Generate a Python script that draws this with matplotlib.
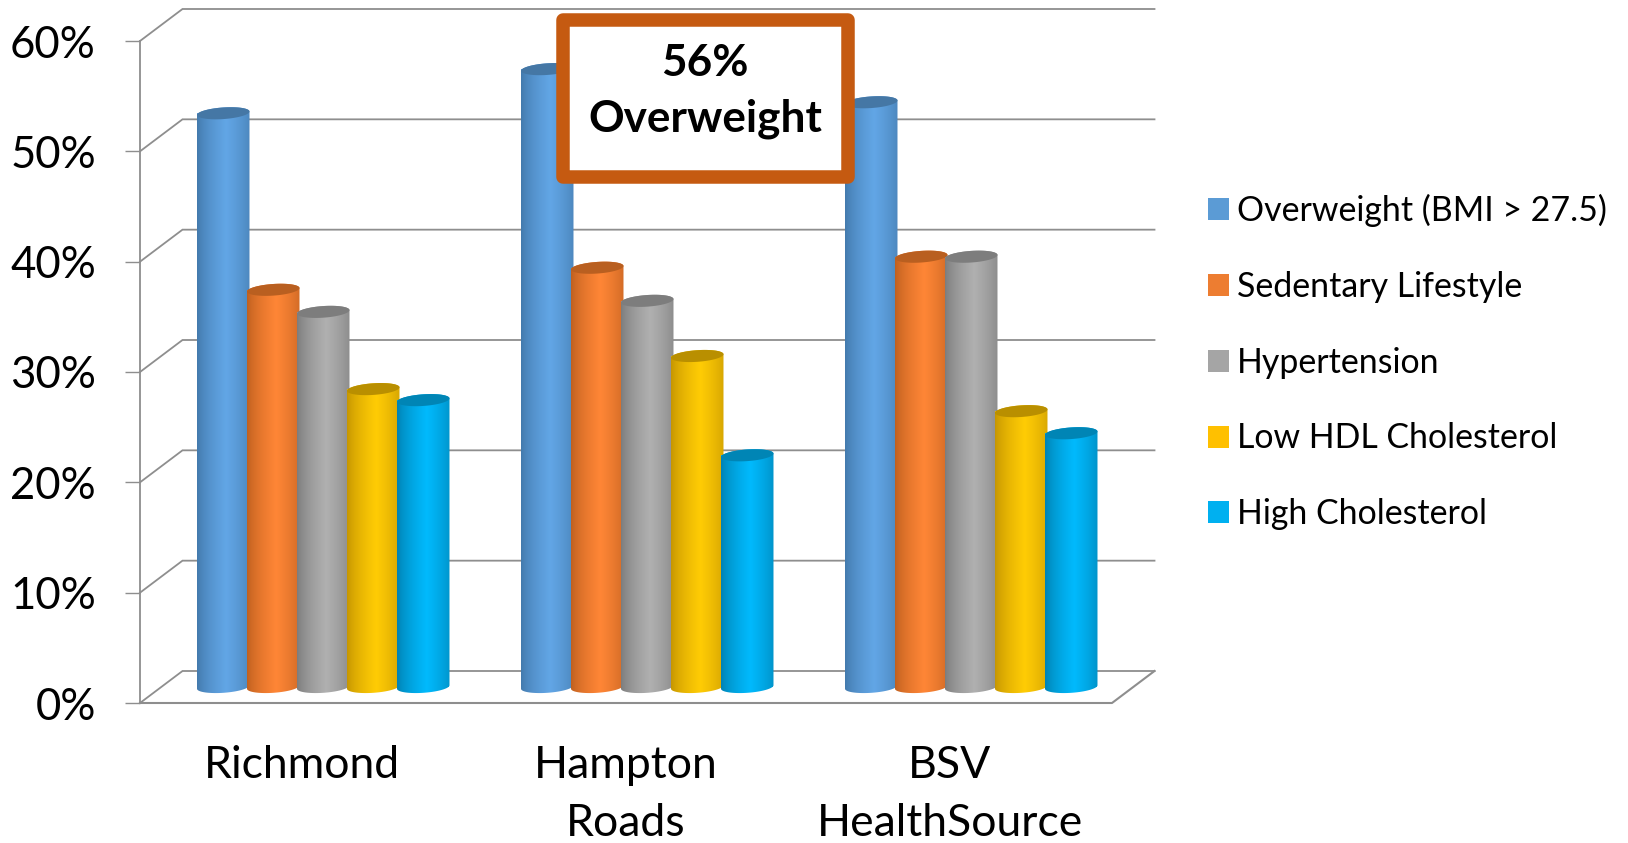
import numpy as np
import matplotlib
matplotlib.use("Agg")
import matplotlib.pyplot as plt
from matplotlib.colors import to_rgb
from matplotlib.patches import Polygon, Rectangle, Patch

categories = ["Richmond", "Hampton\nRoads", "BSV\nHealthSource"]
series_names = ["Overweight (BMI > 27.5)", "Sedentary Lifestyle", "Hypertension",
                "Low HDL Cholesterol", "High Cholesterol"]
overweight = [52, 56, 53]
sedentary = [36, 38, 39]
hypertension = [34, 35, 39]
low_hdl = [27, 30, 25]
high_chol = [26, 21, 23]
series_values = [overweight, sedentary, hypertension, low_hdl, high_chol]
y_ticks = [0, 10, 20, 30, 40, 50, 60]
y_labels = ["0%", "10%", "20%", "30%", "40%", "50%", "60%"]
callout = "56%\nOverweight"

legend_colors = ["#5b9bd5", "#ed7d31", "#a5a5a5", "#ffc000", "#00b0f0"]
edge_colors = ["#3a6d9c", "#ad5519", "#6e6e6e", "#b58600", "#00729e"]
mid_colors = ["#62a6e6", "#ff8636", "#b0b0b0", "#ffcc05", "#00bafd"]
cap_colors = ["#4577a5", "#b95f20", "#7d7d7d", "#b98f00", "#0085b5"]

W, H, DPI = 1628, 843, 100
X0, X1, Y0, Y1 = 140, 1112, 703, 41
plt.rcParams["font.family"] = ["Lato", "DejaVu Sans"]

fig = plt.figure(figsize=(W / DPI, H / DPI), dpi=DPI, facecolor="white")
ax = fig.add_axes([X0 / W, 1 - Y0 / H, (X1 - X0) / W, (Y0 - Y1) / H])
ax.patch.set_alpha(0)
PX = 3 / (X1 - X0)
PY = 60 / (Y0 - Y1)
DX, DY = 42.5 * PX, 32 * PY
GRID = "#8e8e8e"

for s in ax.spines.values():
    s.set_visible(False)

# back wall and side wall gridlines
for v in y_ticks:
    ax.plot([0, DX, 3 + DX], [v, v + DY, v + DY], color=GRID, lw=1.3, clip_on=False,
            zorder=1, solid_joinstyle="miter")
ax.plot([0, 0], [0, 60], color=GRID, lw=1.3, clip_on=False, zorder=1)
ax.plot([0, 3, 3 + DX], [0, 0, DY], color=GRID, lw=1.5, clip_on=False, zorder=1)

# cylinders
step, width = 50 * PX, 52 * PX
a, b, tilt = 26.3, 5.8, np.radians(4)


def ellipse(cx, cy, t0, t1):
    t = np.linspace(t0, t1, 60)
    ex, ey = a * np.cos(t), b * np.sin(t)
    px = ex * np.cos(tilt) - ey * np.sin(tilt)
    py = ex * np.sin(tilt) + ey * np.cos(tilt)
    return np.column_stack([cx + px * PX, cy + py * PY])


u = np.linspace(0, 1, 128)
shade = np.clip(1 - np.abs(u - 0.56) / 0.56, 0, 1) ** 0.55
z = 2
for j, vals in enumerate(series_values):
    edge, mid = np.array(to_rgb(edge_colors[j])), np.array(to_rgb(mid_colors[j]))
    grad = (edge[None, :] + (mid - edge)[None, :] * shade[:, None])[None, :, :]
    centers = np.arange(3) + 0.5 + DX / 2 + (j - 2) * step
    bars = ax.bar(centers, vals, width=width, bottom=DY / 2, color=mid_colors[j],
                  linewidth=0, zorder=z, clip_on=False, label=series_names[j])
    for rect, cx, v in zip(bars, centers, vals):
        base, top = DY / 2, DY / 2 + v
        outline = np.vstack([ellipse(cx, top, 0, np.pi), ellipse(cx, base, np.pi, 2 * np.pi)])
        body = Polygon(outline, closed=True, facecolor="none", edgecolor="none",
                       transform=ax.transData)
        ax.add_patch(body)
        body.set_clip_on(False)
        rect.set_clip_path(body)
        im = ax.imshow(grad, extent=[cx - width / 2 - 2 * PX, cx + width / 2 + 2 * PX,
                                     base - 8 * PY, top + 8 * PY],
                       aspect="auto", interpolation="bilinear", zorder=z + 0.1)
        im.set_clip_path(body)
        ax.add_patch(Polygon(ellipse(cx, top, 0, 2 * np.pi), closed=True, facecolor=cap_colors[j],
                             edgecolor="none", zorder=z + 0.2, clip_on=False))
        z += 1

ax.set_xlim(0, 3)
ax.set_ylim(0, 60)
ax.set_xticks(np.arange(3) + 0.5, categories)
ax.set_yticks(y_ticks, y_labels)
ax.tick_params(axis="x", length=0, pad=30, labelsize=32)
ax.tick_params(axis="y", length=10.8, width=1, color=GRID, pad=21, labelsize=31.5)
for t in ax.get_xticklabels():
    t.set_linespacing(1.54)
    t.set_zorder(50)

# callout box
bx0, bx1, by0, by1 = 556, 855, 13, 184
tk = 13.5
ax.add_patch(Rectangle(((bx0 + tk / 2 - X0) * PX, (Y0 - by1 + tk / 2) * PY),
                       (bx1 - bx0 - tk) * PX, (by1 - by0 - tk) * PY,
                       facecolor="white", edgecolor="#c55a11", lw=tk * 72 / DPI,
                       joinstyle="round", zorder=200, clip_on=False))
ax.text((705 - X0) * PX, (Y0 - 91) * PY, callout, ha="center", va="center", fontsize=31.8,
        fontweight="bold", color="black", linespacing=1.49, zorder=201)

# legend
handles = [Patch(facecolor=c, edgecolor="none", label=n) for c, n in zip(legend_colors, series_names)]
FS = 24.4
fpx = FS * DPI / 72
leg = fig.legend(handles=handles, loc="center left", bbox_to_anchor=(1208 / W, 1 - 362 / H),
                 frameon=False, fontsize=FS, borderpad=0, borderaxespad=0,
                 handlelength=21 / fpx, handleheight=21 / fpx, handletextpad=8 / fpx,
                 labelspacing=(74.9 - 31) / fpx)
for lt in leg.get_texts():
    lt.set_color("black")

fig.savefig("out.png", dpi=DPI, facecolor="white")
